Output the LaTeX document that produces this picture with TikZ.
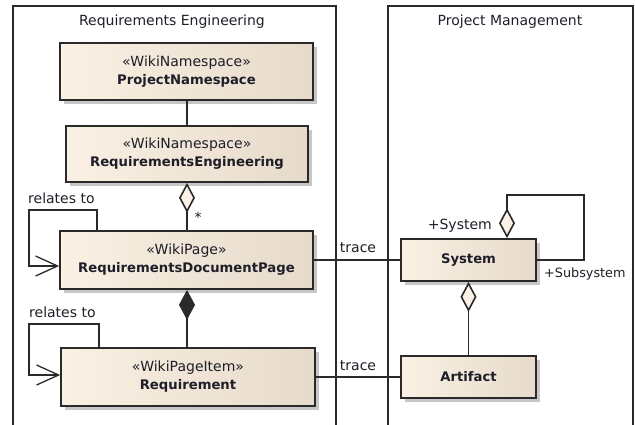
\documentclass[tikz,border=0pt]{standalone}
\usepackage{fontspec}
\setmainfont{DejaVu Sans}
\usetikzlibrary{arrows.meta,shadows}
\definecolor{boxL}{HTML}{FAF1E4}
\definecolor{boxR}{HTML}{E6DACA}
\definecolor{dia}{HTML}{FBF1E4}
\definecolor{ink}{HTML}{1E1E28}
\definecolor{lineC}{HTML}{2A2A2A}
\newcommand{\rfont}{\fontsize{14}{16}\selectfont}
\newcommand{\sfontx}{\fontsize{12.8}{16}\selectfont}
\newcommand{\bfont}{\fontsize{13.2}{16}\selectfont\bfseries}
\tikzset{
  cls/.style={draw=lineC, line width=1.7pt, left color=boxL, right color=boxR,
    drop shadow={shadow xshift=4pt, shadow yshift=-4pt, fill=black!22, opacity=1},
    align=center, inner sep=0pt, text=ink, font=\rfont},
  frame/.style={draw=lineC, line width=1.6pt},
  conn/.style={draw=lineC, line width=1.6pt},
  lbl/.style={text=ink, font=\rfont, inner sep=0pt},
  hollowdia/.style={-{Diamond[open,length=30pt,width=16pt,fill=dia]}},
  filleddia/.style={-{Diamond[length=30pt,width=16pt]}},
  openarr/.style={-{Straight Barb[length=22pt,width=20pt,line width=1.3pt]}}
}
\begin{document}
\begin{tikzpicture}[x=1pt,y=-1pt]
\useasboundingbox (0,0) rectangle (635,424);
% frames
\draw[frame] (13,440) -- (13,6) -- (336,6) -- (336,440);
\draw[frame] (388,440) -- (388,6) -- (633,6) -- (633,440);
\node[lbl] (t1) at (172,22) {Requirements Engineering};
\node[lbl] (t2) at (510,22) {Project Management};
% classes
\node[cls, minimum width=253pt, minimum height=57pt] (pn) at (186.5,71.5)
  {«WikiNamespace»\\[2pt]{\bfont ProjectNamespace}};
\node[cls, minimum width=242pt, minimum height=56pt] (re) at (187,154)
  {«WikiNamespace»\\[2pt]{\bfont RequirementsEngineering}};
\node[cls, minimum width=253pt, minimum height=58pt] (rdp) at (186.5,260)
  {«WikiPage»\\[2pt]{\bfont RequirementsDocumentPage}};
\node[cls, minimum width=254pt, minimum height=58pt] (req) at (188,377)
  {«WikiPageItem»\\[2pt]{\bfont Requirement}};
\node[cls, minimum width=135pt, minimum height=42pt] (sys) at (468.5,260)
  {\bfont System};
\node[cls, minimum width=135pt, minimum height=42pt] (art) at (468.5,377)
  {\bfont Artifact};
% connectors
\draw[conn] (pn.south -| re.south) -- (re.north);
\draw[conn, hollowdia] (rdp.north -| re.south) -- (re.south);
\node[lbl] (star) at (198,217) {*};
\draw[conn, filleddia] (req.north -| re.south) -- (rdp.south -| re.south);
% self loops
\coordinate (l1a) at (97,210);
\coordinate (l1b) at (29,266);
\draw[conn, openarr] (rdp.north -| l1a) -- (l1a) -| (l1b) -- (rdp.west |- l1b);
\node[lbl, anchor=west] (rel1) at (28,198) {relates to};
\coordinate (l2a) at (99,324);
\coordinate (l2b) at (29,375);
\draw[conn, openarr] (req.north -| l2a) -- (l2a) -| (l2b) -- (req.west |- l2b);
\node[lbl, anchor=west] (rel2) at (29,312) {relates to};
% traces
\draw[conn] (rdp.east) -- (sys.west);
\node[lbl] (tr1) at (358,248) {trace};
\draw[conn] (req.east) -- (art.west);
\node[lbl] (tr2) at (358,366) {trace};
% system aggregation
\draw[conn, hollowdia] (art.north) -- (sys.south);
\coordinate (s1) at (584,195);
\coordinate (s2) at (507,195);
\draw[conn, hollowdia] (sys.east) -| (s1) -- (s2) -- (sys.north -| s2);
\node[lbl, anchor=east] (plsys) at (492,226) {+System};
\node[lbl, font=\sfontx, anchor=west] (plsub) at (544,274) {+Subsystem};
\end{tikzpicture}
\end{document}
